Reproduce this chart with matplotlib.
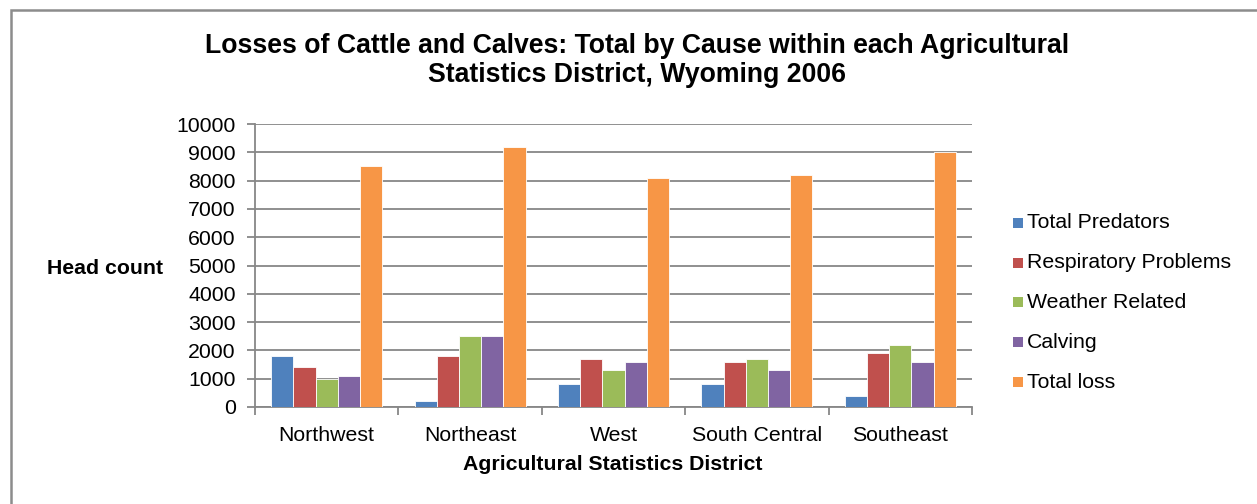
import matplotlib
matplotlib.use("Agg")
import matplotlib.pyplot as plt
from matplotlib.patches import Rectangle
import numpy as np

plt.rcParams['font.family'] = ['Liberation Sans', 'DejaVu Sans']

districts = ["Northwest", "Northeast", "West", "South Central", "Southeast"]
series_names = ["Total Predators", "Respiratory Problems", "Weather Related",
                "Calving", "Total loss"]
total_predators = [1800, 200, 800, 800, 400]
respiratory = [1400, 1800, 1700, 1600, 1900]
weather = [1000, 2500, 1300, 1700, 2200]
calving = [1100, 2500, 1600, 1300, 1600]
total_loss = [8500, 9200, 8100, 8200, 9000]
yticks = list(range(0, 10001, 1000))

colors = ["#4F81BD", "#C0504D", "#9BBB59", "#8064A2", "#F79646"]
series = [total_predators, respiratory, weather, calving, total_loss]

FS = 15.3
W, H = 1257, 504
fig = plt.figure(figsize=(W / 100, H / 100), dpi=100)

# outer chart frame (runs off the right and bottom edges)
fig.patches.append(Rectangle((10.5 / W, -0.1), 1.2, 1 - 9.5 / H + 0.1,
                             transform=fig.transFigure, fill=False,
                             edgecolor="#8C8C8C", linewidth=1.8, zorder=0))

ax_l, ax_r, ax_b, ax_t = 255, 972, 407, 124
ax = fig.add_axes([ax_l / W, 1 - ax_b / H, (ax_r - ax_l) / W, (ax_b - ax_t) / H])

x = np.arange(len(districts))
bw = 0.155
for i, (vals, name, c) in enumerate(zip(series, series_names, colors)):
    ax.bar(x + (i - 2) * bw, vals, width=bw, color=c, label=name,
           edgecolor="white", linewidth=0.6, zorder=3)

ax.set_xlim(-0.5, len(districts) - 0.5)
ax.set_ylim(0, 10000)
ax.set_yticks(yticks)
ax.set_yticklabels([str(v) for v in yticks], fontsize=FS)
ax.yaxis.grid(True, color="#878787", linewidth=1.3, zorder=0)
ax.set_axisbelow(True)

ax.set_xticks(x)
ax.set_xticklabels(districts, fontsize=FS)
ax.set_xticks(np.arange(-0.5, len(districts)), minor=True)
ax.tick_params(axis="x", which="major", length=0, pad=14)
ax.tick_params(axis="x", which="minor", length=6, color="#878787", width=1.3)
ax.tick_params(axis="y", length=6, color="#878787", width=1.3, pad=8)

for s in ["top", "right"]:
    ax.spines[s].set_visible(False)
for s in ["left", "bottom"]:
    ax.spines[s].set_color("#878787")
    ax.spines[s].set_linewidth(1.3)

fig.text(637 / W, 1 - 46 / H, "Losses of Cattle and Calves: Total by Cause within each Agricultural",
         ha="center", va="center", fontsize=19.2, fontweight="bold")
fig.text(637 / W, 1 - 75 / H, "Statistics District, Wyoming 2006",
         ha="center", va="center", fontsize=19.2, fontweight="bold")
fig.text(105.5 / W, 1 - 268 / H, "Head count", ha="center", va="center",
         fontsize=FS, fontweight="bold")
fig.text(613 / W, 1 - 465 / H, "Agricultural Statistics District", ha="center",
         va="center", fontsize=FS, fontweight="bold")

# legend drawn as squares plus labels
leg_y = [223, 263, 302, 342, 382]
for name, c, yy in zip(series_names, colors, leg_y):
    fig.patches.append(Rectangle((1013 / W, 1 - (yy + 5) / H), 10 / W, 10 / H,
                                 transform=fig.transFigure, facecolor=c,
                                 edgecolor="none"))
    fig.text(1027 / W, 1 - yy / H, name, ha="left", va="center", fontsize=FS)

fig.savefig("out.png", dpi=100)
